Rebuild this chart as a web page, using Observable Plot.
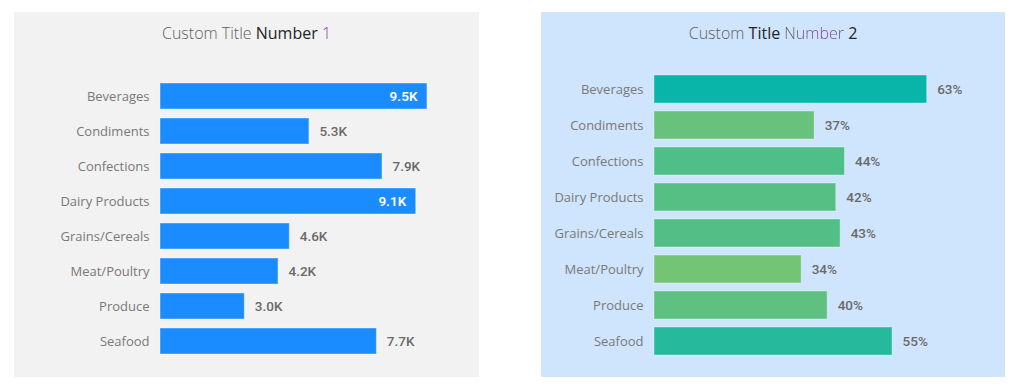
<!DOCTYPE html>
<html><head><meta charset="utf-8">
<script src="https://cdn.jsdelivr.net/npm/d3@7"></script>
<script src="https://cdn.jsdelivr.net/npm/@observablehq/plot@0.6"></script>
<style>
body{margin:0;background:#fff;width:1024px;height:392px;position:relative;overflow:hidden;font-family:"Open Sans",sans-serif}
.panel{position:absolute;top:12px;height:365px}
.title{height:44px;line-height:42px;text-align:center;font-size:16px;font-weight:300;color:#605e5c;white-space:nowrap}
.panel svg{display:block}
</style></head><body>
<div id="p1" class="panel" style="left:14px;width:465px;background:#f2f2f2">
  <div class="title">Custom Title <span style="font-weight:500;color:#252423">Number</span> <span style="color:#8e3a9a">1</span></div>
</div>
<div id="p2" class="panel" style="left:541px;width:464px;background:#cfe5fd">
  <div class="title">Custom <span style="font-weight:500;color:#252423">Title</span> <span style="background:linear-gradient(90deg,#605e5c 20%,#8e3a9a 70%,#605e5c 100%);-webkit-background-clip:text;background-clip:text;color:transparent">Number</span> <span style="font-weight:500;color:#252423">2</span></div>
</div>
<script>
const categories = ["Beverages","Condiments","Confections","Dairy Products","Grains/Cereals","Meat/Poultry","Produce","Seafood"];
const salesK = [9.5, 5.3, 7.9, 9.1, 4.6, 4.2, 3.0, 7.7];
const sharePct = [63, 37, 44, 42, 43, 34, 40, 55];

const data1 = categories.map((c, i) => ({c, v: salesK[i]}));
const data2 = categories.map((c, i) => ({c, v: sharePct[i]}));

const labelFont = "Roboto, 'DejaVu Sans', sans-serif";

const chart1 = Plot.plot({
  width: 465, height: 321,
  marginLeft: 146, marginRight: 38, marginTop: 17, marginBottom: 13,
  style: {background: "transparent", fontFamily: "'Open Sans', sans-serif", color: "#777"},
  x: {domain: [0, 10], axis: null},
  y: {domain: categories, padding: 0.25, axis: null},
  marks: [
    Plot.axisY({tickSize: 0, tickPadding: 11, fontSize: 13, label: null, fill: "#7a7878"}),
    Plot.barX(data1, {x: "v", y: "c", fill: "#1a8cff", stroke: "rgba(255,255,255,0.4)", strokeWidth: 1}),
    Plot.text(data1.filter(d => d.v >= 9), {x: "v", y: "c", text: d => d.v.toFixed(1) + "K", dx: -10, textAnchor: "end", fill: "white", fontWeight: 600, fontSize: 13.5, fontFamily: labelFont}),
    Plot.text(data1.filter(d => d.v < 9), {x: "v", y: "c", text: d => d.v.toFixed(1) + "K", dx: 10, textAnchor: "start", fill: "#6b6967", fontWeight: 500, fontSize: 13.5, fontFamily: labelFont})
  ]
});
document.getElementById("p1").appendChild(chart1);

const chart2 = Plot.plot({
  width: 464, height: 321,
  marginLeft: 113, marginRight: 48, marginTop: 10, marginBottom: 13,
  style: {background: "transparent", fontFamily: "'Open Sans', sans-serif", color: "#777"},
  x: {domain: [0, 70], axis: null},
  y: {domain: categories, padding: 0.22, axis: null},
  color: {type: "linear", domain: [d3.min(sharePct), d3.max(sharePct)], range: ["#74c476", "#08b5a9"]},
  marks: [
    Plot.axisY({tickSize: 0, tickPadding: 11, fontSize: 13, label: null, fill: "#7a7878"}),
    Plot.barX(data2, {x: "v", y: "c", fill: "v", stroke: "rgba(255,255,255,0.35)", strokeWidth: 1}),
    Plot.text(data2, {x: "v", y: "c", text: d => d.v + "%", dx: 10, textAnchor: "start", fill: "#6b6967", fontWeight: 500, fontSize: 13.5, fontFamily: labelFont})
  ]
});
document.getElementById("p2").appendChild(chart2);
</script>
</body></html>
